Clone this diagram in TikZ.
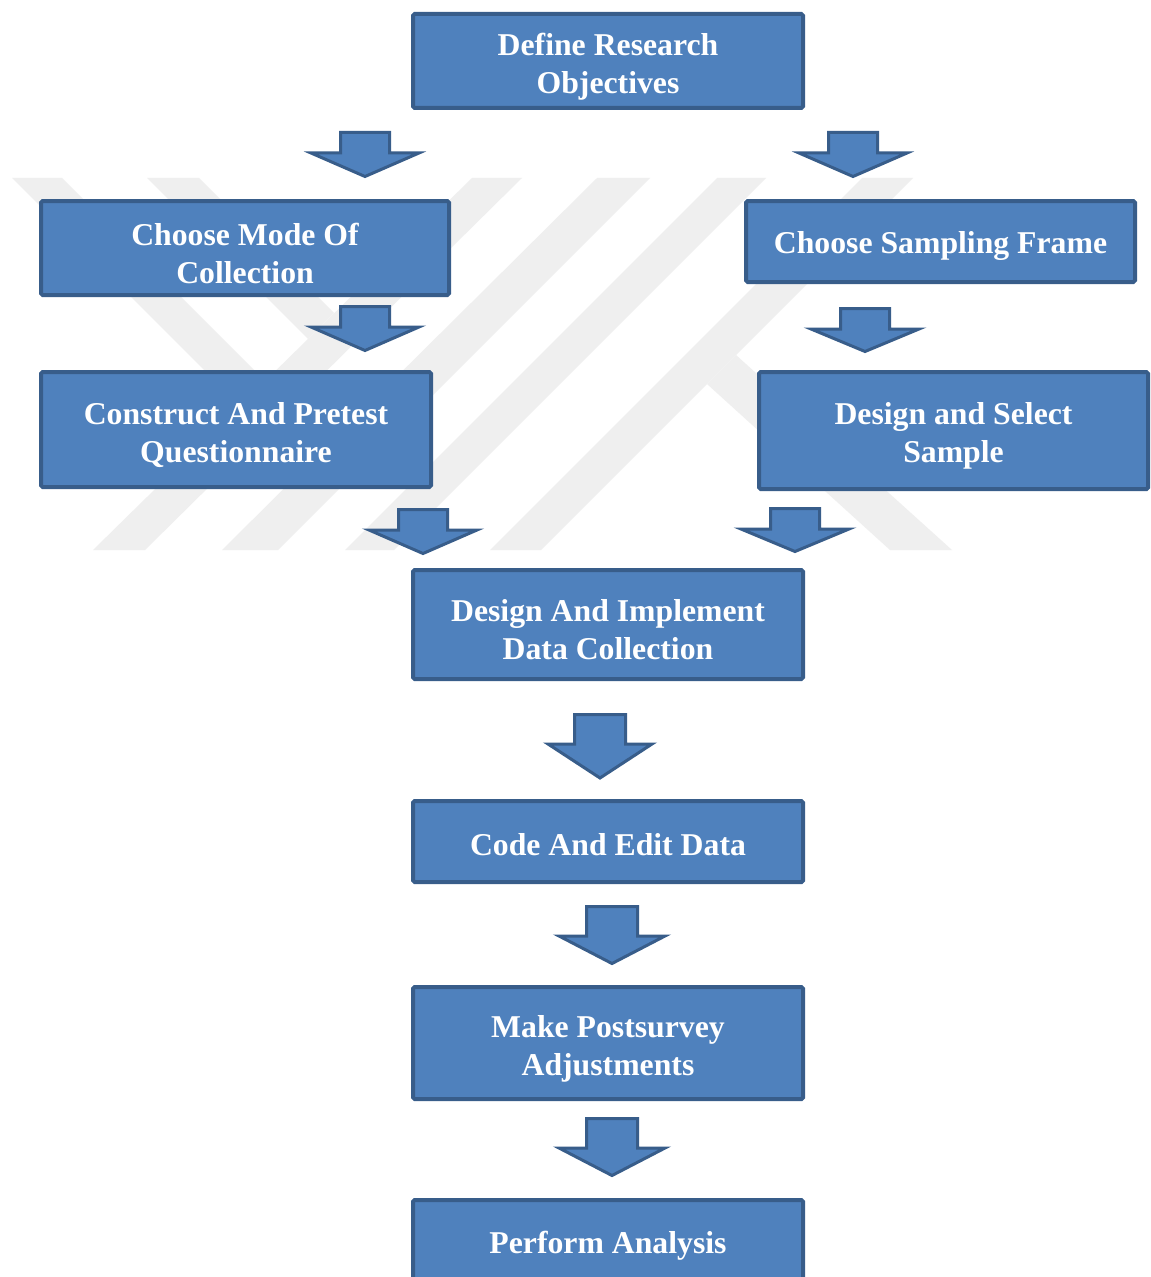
\documentclass[tikz,border=0pt]{standalone}
\usepackage{fontspec}
\setmainfont{Liberation Serif}
\definecolor{boxfill}{HTML}{4F81BD}
\definecolor{boxline}{HTML}{385D8A}
\definecolor{wmgray}{HTML}{EFEFEF}
% block arrow pointing down: centre x, top, neck, tip, shaft half width, head half width
\newcommand\fatarrow[6]{%
  \draw[fatarrowstyle] ({#1-#5},#2) -- ({#1+#5},#2) -- ({#1+#5},#3) -- ({#1+#6},#3)
    -- (#1,#4) -- ({#1-#6},#3) -- ({#1-#5},#3) -- cycle;}
\begin{document}
\begin{tikzpicture}[x=0.75pt,y=-0.75pt,
  stepbox/.style={draw=boxline, fill=boxfill, line width=3pt, rounded corners=1.2pt, inner sep=0pt},
  steptext/.style={text=white, font=\fontsize{23.8}{28.5}\selectfont\bfseries, align=center, inner sep=0pt},
  boxsize/.style 2 args={minimum width=#1*0.75pt, minimum height=#2*0.75pt},
  fatarrowstyle/.style={fill=boxfill, draw=boxline, line width=2.25pt, line join=miter},
  wm/.style={fill=wmgray}]
\useasboundingbox (0,0) rectangle (1150,1277);
\fill[white] (0,0) rectangle (1150,1277);

% faint background emblem
\fill[wm] (12,178) -- (62,178) -- (266,382) -- (241,407) -- cycle;
\fill[wm] (147,178) -- (199,178) -- (334,313) -- (308,339) -- cycle;
\fill[wm] (472,178) -- (522,178) -- (145,550) -- (93,550) -- cycle;
\fill[wm] (597,178) -- (650,178) -- (278,550) -- (222,550) -- cycle;
\fill[wm] (717,178) -- (766,178) -- (394,550) -- (345,550) -- cycle;
\fill[wm] (862,178) -- (913,178) -- (541,550) -- (490,550) -- cycle;
\fill[wm] (736,355) -- (952,550) -- (890,550) -- (707,384) -- cycle;

% process steps (frames)
\node[stepbox, boxsize={390}{94}]  (objectives)    at (608,61)      {};
\node[stepbox, boxsize={408}{94}]  (mode)          at (245,248)     {};
\node[stepbox, boxsize={389}{81}]  (frame)         at (940.5,241.5) {};
\node[stepbox, boxsize={390}{115}] (questionnaire) at (236,429.5)   {};
\node[stepbox, boxsize={389}{117}] (sample)        at (953.5,430.5) {};
\node[stepbox, boxsize={390}{109}] (collection)    at (608,624.5)   {};
\node[stepbox, boxsize={390}{81}]  (coding)        at (608,841.5)   {};
\node[stepbox, boxsize={390}{112}] (adjust)        at (608,1043)    {};
\node[stepbox, boxsize={390}{84}]  (analysis)      at (608,1242)    {};

% step labels
\node[steptext] (objectives-t)    at ([yshift=-4.1pt]objectives.center)    {Define Research\\Objectives};
\node[steptext] (mode-t)          at ([yshift=-4.1pt]mode.center)          {Choose Mode Of\\Collection};
\node[steptext] (frame-t)         at ([yshift=-3pt]frame.center)           {Choose Sampling Frame};
\node[steptext] (questionnaire-t) at ([yshift=-4.1pt]questionnaire.center) {Construct And Pretest\\Questionnaire};
\node[steptext] (sample-t)        at ([yshift=-4.1pt]sample.center)        {Design and Select\\Sample};
\node[steptext] (collection-t)    at ([yshift=-4.1pt]collection.center)    {Design And Implement\\Data Collection};
\node[steptext] (coding-t)        at ([yshift=-2.2pt]coding.center)        {Code And Edit Data};
\node[steptext] (adjust-t)        at ([yshift=-4.1pt]adjust.center)        {Make Postsurvey\\Adjustments};
\node[steptext] (analysis-t)      at ([yshift=-3pt]analysis.center)        {Perform Analysis};

% block arrows between the steps
\fatarrow{365}{132.5}{153}{176.5}{24.5}{54}
\fatarrow{853}{132.5}{153}{176.5}{24.5}{54}
\fatarrow{365}{306.5}{327}{350.5}{24.5}{54}
\fatarrow{865}{308.5}{329}{351.5}{24.5}{54}
\fatarrow{423}{509.5}{530}{553.5}{24.5}{54}
\fatarrow{795}{508.5}{529}{551.5}{24.5}{54}
\fatarrow{600}{714.5}{744}{778}{25.5}{52}
\fatarrow{612}{906.5}{936}{963.5}{25.5}{53}
\fatarrow{612}{1118.5}{1148}{1175.5}{25.5}{53}
\end{tikzpicture}
\end{document}
